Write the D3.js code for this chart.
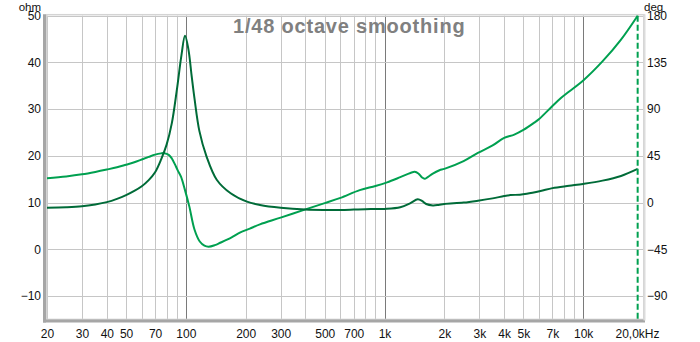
<!DOCTYPE html>
<html>
<head>
<meta charset="utf-8">
<script src="https://cdn.jsdelivr.net/npm/d3@7"></script>
<style>
  html, body { margin: 0; padding: 0; background: #fff; }
  svg { display: block; font-family: "Liberation Sans", Arial, sans-serif; }
  .tick text { font-size: 12px; fill: #111; }
</style>
</head>
<body>
<svg id="chart" width="700" height="342"></svg>
<script>
// Frequency axis ticks and labels
const freqTicks = [20, 30, 40, 50, 70, 100, 200, 300, 500, 700, 1000, 2000, 3000, 4000, 5000, 7000, 10000, 20000];
const freqTickLabels = ["20", "30", "40", "50", "70", "100", "200", "300", "500", "700", "1k", "2k", "3k", "4k", "5k", "7k", "10k", "20,0kHz"];
const ohmTicks = [50, 40, 30, 20, 10, 0, -10];
const degTicks = [180, 135, 90, 45, 0, -45, -90];

// Impedance magnitude (ohm) vs frequency (Hz)
const impFreq = [20, 25, 30, 35, 40, 45, 50, 55, 60, 65, 70, 75, 80, 85, 90, 95, 99, 103, 107, 110.5, 117, 127, 143, 168, 203, 236, 300, 400, 500, 600, 700, 800, 1000, 1200, 1350, 1470, 1550, 1620, 1750, 1870, 2000, 2500, 2950, 3500, 4000, 4300, 4800, 5200, 6100, 7000, 8500, 10000, 12500, 15500, 18800];
const impOhm  = [8.9, 9.0, 9.2, 9.6, 10.1, 10.8, 11.6, 12.5, 13.5, 14.8, 16.5, 19.2, 22.4, 27.0, 34.0, 41.5, 45.7, 42.8, 37.0, 32.3, 25.3, 19.9, 14.9, 12.0, 10.2, 9.5, 8.9, 8.5, 8.4, 8.4, 8.5, 8.6, 8.65, 9.0, 9.9, 10.7, 10.3, 9.7, 9.4, 9.5, 9.7, 10.0, 10.4, 10.9, 11.4, 11.6, 11.7, 11.9, 12.5, 13.1, 13.6, 14.0, 14.7, 15.7, 17.2];

// Impedance phase (deg) vs frequency (Hz)
const phaseFreq = [20, 25, 30, 35, 40, 45, 50, 55, 60, 65, 70, 75, 78, 82, 85, 88, 91, 94.5, 99, 104, 110.5, 117.5, 124, 130, 140, 149, 170, 187, 210, 236, 300, 400, 500, 600, 750, 900, 1030, 1200, 1350, 1420, 1480, 1540, 1590, 1650, 1750, 1890, 2000, 2500, 2950, 3500, 4000, 4500, 5000, 5670, 6000, 7000, 7700, 8500, 10100, 12500, 15500, 18800];
const phaseDeg  = [23.5, 25.2, 27.2, 29.5, 31.8, 34.0, 36.5, 38.8, 41.5, 44.0, 46.2, 47.4, 47.6, 46.0, 42.5, 37.0, 31.0, 25.0, 12.0, -3.4, -25.9, -37.5, -41.5, -42.5, -41.0, -38.7, -33.5, -29.0, -25.0, -21.0, -14.5, -6.5, -0.5, 4.5, 12.0, 16.0, 19.5, 24.5, 28.5, 29.6, 28.0, 24.5, 22.9, 24.5, 28.0, 31.2, 32.5, 40.0, 47.9, 55.0, 62.3, 65.5, 70.0, 77.0, 80.5, 93.0, 100.5, 107.0, 118.4, 136.0, 157.0, 180.0];

// Frequency of the vertical marker
const markerFreq = [18800];

const svg = d3.select("#chart");
const plotLeft = 47, plotRight = 643, plotTop = 15.7, plotBottom = 319.4;

const x = d3.scaleLog().domain([20, 20000]).range([plotLeft, plotRight]);
const yOhm = d3.scaleLinear().domain([-15, 50]).range([plotBottom, plotTop]);
const yDeg = d3.scaleLinear().domain([-112.5, 180]).range([plotBottom, plotTop]);

// Plot background
svg.append("rect").attr("x", plotLeft).attr("y", plotTop).attr("width", plotRight - plotLeft).attr("height", plotBottom - plotTop).attr("fill", "#fff");

// Vertical grid: every 1..9 multiple per decade
const gridFreqs = [];
[10, 100, 1000, 10000].forEach(d => { for (let m = 1; m <= 9; m++) { const f = d * m; if (f >= 20 && f <= 20000) gridFreqs.push(f); } });
const decades = [100, 1000, 10000];
svg.append("g").selectAll("line").data(gridFreqs).join("line")
  .attr("x1", d => Math.round(x(d)) + 0.5).attr("x2", d => Math.round(x(d)) + 0.5)
  .attr("y1", plotTop).attr("y2", plotBottom)
  .attr("stroke", d => decades.includes(d) ? "#7a7a7a" : "#c6c6c6")
  .attr("stroke-width", 1);

// Horizontal grid
svg.append("g").selectAll("line").data(ohmTicks).join("line")
  .attr("x1", plotLeft).attr("x2", plotRight)
  .attr("y1", d => Math.round(yOhm(d)) + 0.5).attr("y2", d => Math.round(yOhm(d)) + 0.5)
  .attr("stroke", "#c6c6c6").attr("stroke-width", 1);

// Frame with an inset shadow on the left and bottom
svg.append("rect").attr("x", plotLeft - 0.5).attr("y", plotTop - 1).attr("width", plotRight - plotLeft + 1.5).attr("height", plotBottom - plotTop + 1)
  .attr("fill", "none").attr("stroke", "#d4d4d4").attr("stroke-width", 1.5);
svg.append("line").attr("x1", plotLeft - 2.5).attr("x2", plotLeft - 2.5).attr("y1", plotTop - 1.5).attr("y2", plotBottom + 3)
  .attr("stroke", "#a6a6a6").attr("stroke-width", 3);
svg.append("line").attr("x1", plotLeft - 4).attr("x2", plotRight + 2).attr("y1", plotBottom + 1.5).attr("y2", plotBottom + 1.5)
  .attr("stroke", "#a6a6a6").attr("stroke-width", 3);
svg.append("line").attr("x1", plotRight + 1.5).attr("x2", plotRight + 1.5).attr("y1", plotTop - 1.5).attr("y2", plotBottom + 1)
  .attr("stroke", "#dcdcdc").attr("stroke-width", 2);

// Title
svg.append("text").attr("x", 233).attr("y", 33)
  .attr("font-size", 20).attr("font-weight", "bold").attr("letter-spacing", 0.8)
  .attr("fill", "#808080").text("1/48 octave smoothing");

// Curves
svg.append("clipPath").attr("id", "plotClip").append("rect")
  .attr("x", plotLeft).attr("y", plotTop - 2).attr("width", plotRight - plotLeft).attr("height", plotBottom - plotTop + 2);

const impLine = d3.line().x(d => x(d[0])).y(d => yOhm(d[1])).curve(d3.curveCatmullRom.alpha(0.5));
const phaseLine = d3.line().x(d => x(d[0])).y(d => yDeg(d[1])).curve(d3.curveCatmullRom.alpha(0.5));

const g = svg.append("g").attr("clip-path", "url(#plotClip)");
g.append("path").datum(phaseFreq.map((f, i) => [f, phaseDeg[i]]))
  .attr("d", phaseLine).attr("fill", "none").attr("stroke", "#00a050").attr("stroke-width", 2);
g.append("path").datum(impFreq.map((f, i) => [f, impOhm[i]]))
  .attr("d", impLine).attr("fill", "none").attr("stroke", "#006b38").attr("stroke-width", 2);

// Dashed marker
svg.append("g").selectAll("line").data(markerFreq).join("line")
  .attr("x1", d => x(d)).attr("x2", d => x(d)).attr("y1", plotTop).attr("y2", plotBottom)
  .attr("stroke", "#00a050").attr("stroke-width", 2).attr("stroke-dasharray", "6,3");

// Axes
const xAxis = d3.axisBottom(x).tickValues(freqTicks).tickFormat((d, i) => freqTickLabels[i]).tickSize(0).tickPadding(10);
const xg = svg.append("g").attr("transform", `translate(0,${plotBottom})`).call(xAxis);
xg.select(".domain").remove();
xg.selectAll(".tick text").filter((d, i) => i === freqTicks.length - 1).attr("dx", -6);

const yAxisL = d3.axisLeft(yOhm).tickValues(ohmTicks).tickFormat(d3.format("d")).tickSize(0).tickPadding(6);
const ylg = svg.append("g").attr("transform", `translate(${plotLeft},0)`).call(yAxisL);
ylg.select(".domain").remove();

const yAxisR = d3.axisRight(yDeg).tickValues(degTicks).tickFormat(d3.format("d")).tickSize(0).tickPadding(4);
const yrg = svg.append("g").attr("transform", `translate(${plotRight},0)`).call(yAxisR);
yrg.select(".domain").remove();

// Unit labels
svg.append("text").attr("x", 41).attr("y", 10.5).attr("text-anchor", "end").attr("font-size", 11.5).attr("fill", "#111").text("ohm");
svg.append("text").attr("x", 644).attr("y", 10.5).attr("font-size", 11.5).attr("fill", "#111").text("deg");
</script>
</body>
</html>
